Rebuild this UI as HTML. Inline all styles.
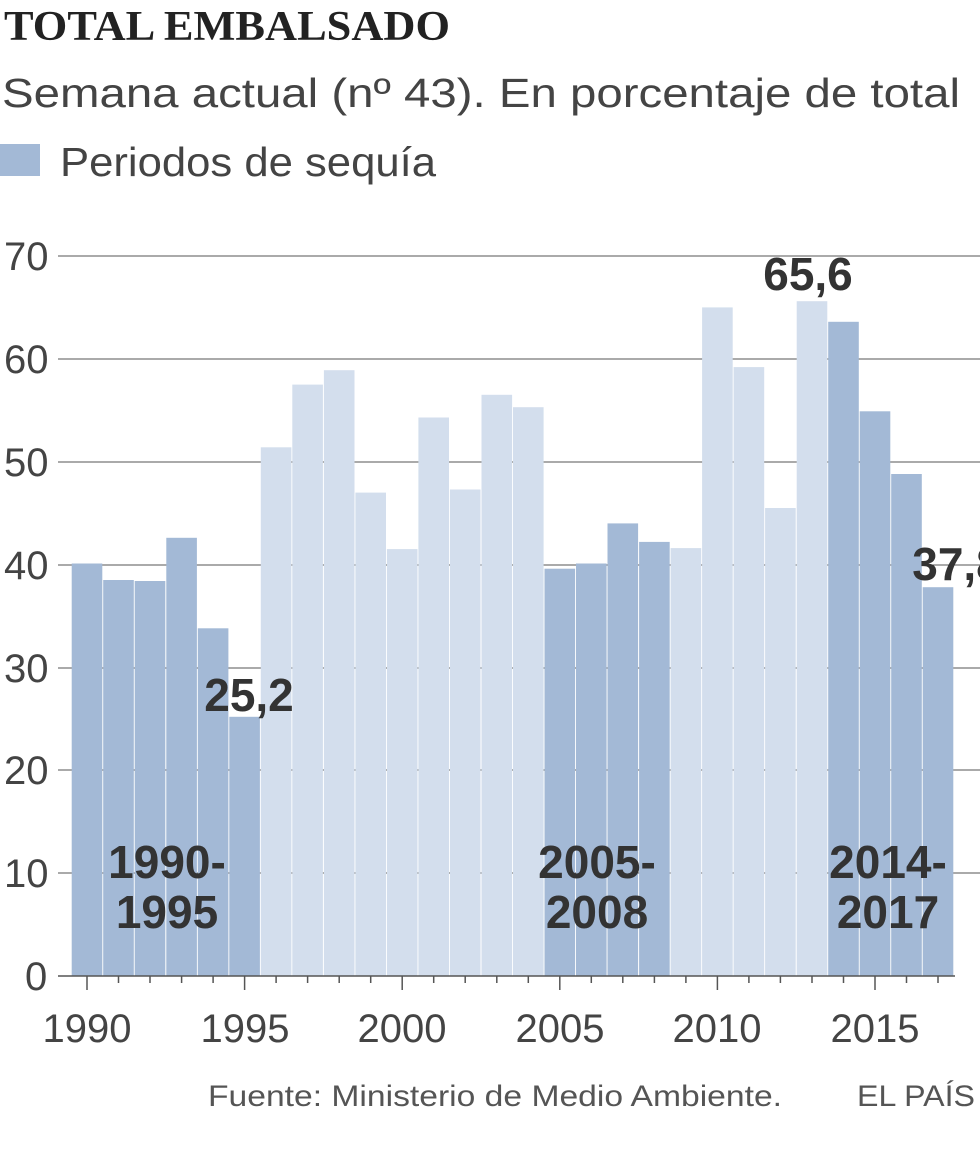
<!DOCTYPE html>
<html><head><meta charset="utf-8"><style>
body{margin:0;background:#fff;width:980px;height:1146px;overflow:hidden}
</style></head><body>
<svg width="980" height="1146" xmlns="http://www.w3.org/2000/svg" font-family="Liberation Sans, sans-serif">
<text x="4" y="40" font-family="Liberation Serif, serif" font-weight="bold" font-size="42" fill="#222" textLength="446" lengthAdjust="spacingAndGlyphs">TOTAL EMBALSADO</text>
<text x="2" y="107" font-size="41" fill="#444" textLength="958" lengthAdjust="spacingAndGlyphs">Semana actual (nº 43). En porcentaje de total</text>
<rect x="0" y="144" width="40" height="32" fill="#a3b9d6"/>
<text x="60" y="176" font-size="41" fill="#444" textLength="376" lengthAdjust="spacingAndGlyphs">Periodos de sequía</text>
<g stroke="#555" stroke-width="1">
<line x1="58" y1="256" x2="980" y2="256"/><line x1="58" y1="359" x2="980" y2="359"/>
<line x1="58" y1="462" x2="980" y2="462"/><line x1="58" y1="565" x2="980" y2="565"/>
<line x1="58" y1="668" x2="980" y2="668"/><line x1="58" y1="770" x2="980" y2="770"/>
<line x1="58" y1="873" x2="980" y2="873"/>
</g>
<g font-size="40" fill="#444">
<text x="4" y="270">70</text><text x="4" y="373">60</text><text x="4" y="476">50</text>
<text x="4" y="579">40</text><text x="4" y="682">30</text><text x="4" y="784">20</text>
<text x="4" y="887">10</text><text x="25" y="990">0</text>
</g>
<g>
<rect x="71.7" y="563.5" width="30.6" height="412.5" fill="#a3b9d6"/>
<rect x="103.2" y="580.0" width="30.6" height="396.0" fill="#a3b9d6"/>
<rect x="134.7" y="581.0" width="30.6" height="395.0" fill="#a3b9d6"/>
<rect x="166.3" y="537.8" width="30.6" height="438.2" fill="#a3b9d6"/>
<rect x="197.8" y="628.3" width="30.6" height="347.7" fill="#a3b9d6"/>
<rect x="229.3" y="716.8" width="30.6" height="259.2" fill="#a3b9d6"/>
<rect x="260.8" y="447.3" width="30.6" height="528.7" fill="#d3deed"/>
<rect x="292.3" y="384.6" width="30.6" height="591.4" fill="#d3deed"/>
<rect x="323.9" y="370.2" width="30.6" height="605.8" fill="#d3deed"/>
<rect x="355.4" y="492.6" width="30.6" height="483.4" fill="#d3deed"/>
<rect x="386.9" y="549.1" width="30.6" height="426.9" fill="#d3deed"/>
<rect x="418.4" y="417.5" width="30.6" height="558.5" fill="#d3deed"/>
<rect x="449.9" y="489.5" width="30.6" height="486.5" fill="#d3deed"/>
<rect x="481.5" y="394.8" width="30.6" height="581.2" fill="#d3deed"/>
<rect x="513.0" y="407.2" width="30.6" height="568.8" fill="#d3deed"/>
<rect x="544.5" y="568.7" width="30.6" height="407.3" fill="#a3b9d6"/>
<rect x="576.0" y="563.5" width="30.6" height="412.5" fill="#a3b9d6"/>
<rect x="607.5" y="523.4" width="30.6" height="452.6" fill="#a3b9d6"/>
<rect x="639.1" y="541.9" width="30.6" height="434.1" fill="#a3b9d6"/>
<rect x="670.6" y="548.1" width="30.6" height="427.9" fill="#d3deed"/>
<rect x="702.1" y="307.4" width="30.6" height="668.6" fill="#d3deed"/>
<rect x="733.6" y="367.1" width="30.6" height="608.9" fill="#d3deed"/>
<rect x="765.1" y="508.0" width="30.6" height="468.0" fill="#d3deed"/>
<rect x="796.7" y="301.2" width="30.6" height="674.8" fill="#d3deed"/>
<rect x="828.2" y="321.8" width="30.6" height="654.2" fill="#a3b9d6"/>
<rect x="859.7" y="411.3" width="30.6" height="564.7" fill="#a3b9d6"/>
<rect x="891.2" y="474.0" width="30.6" height="502.0" fill="#a3b9d6"/>
<rect x="922.7" y="587.2" width="30.6" height="388.8" fill="#a3b9d6"/>
</g>
<line x1="58" y1="976" x2="955" y2="976" stroke="#555" stroke-width="1.5"/>
<g stroke="#555" stroke-width="1.5">
<line x1="87" y1="976" x2="87" y2="990"/><line x1="118.5" y1="976" x2="118.5" y2="983"/><line x1="150" y1="976" x2="150" y2="983"/><line x1="181.6" y1="976" x2="181.6" y2="983"/><line x1="213.1" y1="976" x2="213.1" y2="983"/>
<line x1="244.6" y1="976" x2="244.6" y2="990"/><line x1="276.1" y1="976" x2="276.1" y2="983"/><line x1="307.6" y1="976" x2="307.6" y2="983"/><line x1="339.2" y1="976" x2="339.2" y2="983"/><line x1="370.7" y1="976" x2="370.7" y2="983"/>
<line x1="402.2" y1="976" x2="402.2" y2="990"/><line x1="433.7" y1="976" x2="433.7" y2="983"/><line x1="465.2" y1="976" x2="465.2" y2="983"/><line x1="496.8" y1="976" x2="496.8" y2="983"/><line x1="528.3" y1="976" x2="528.3" y2="983"/>
<line x1="559.8" y1="976" x2="559.8" y2="990"/><line x1="591.3" y1="976" x2="591.3" y2="983"/><line x1="622.8" y1="976" x2="622.8" y2="983"/><line x1="654.4" y1="976" x2="654.4" y2="983"/><line x1="685.9" y1="976" x2="685.9" y2="983"/>
<line x1="717.4" y1="976" x2="717.4" y2="990"/><line x1="748.9" y1="976" x2="748.9" y2="983"/><line x1="780.4" y1="976" x2="780.4" y2="983"/><line x1="812" y1="976" x2="812" y2="983"/><line x1="843.5" y1="976" x2="843.5" y2="983"/>
<line x1="875" y1="976" x2="875" y2="990"/><line x1="906.5" y1="976" x2="906.5" y2="983"/><line x1="938" y1="976" x2="938" y2="983"/>
</g>
<g font-size="40" fill="#444" text-anchor="middle">
<text x="87" y="1042">1990</text><text x="245" y="1042">1995</text><text x="402" y="1042">2000</text>
<text x="560" y="1042">2005</text><text x="717" y="1042">2010</text><text x="875" y="1042">2015</text>
</g>
<g font-size="46" font-weight="bold" fill="#333" text-anchor="middle">
<text x="249" y="711">25,2</text><text x="808" y="290">65,6</text><text x="957" y="580">37,8</text>
<text x="167" y="878">1990-</text><text x="167" y="928">1995</text>
<text x="597" y="878">2005-</text><text x="597" y="928">2008</text>
<text x="888" y="878">2014-</text><text x="888" y="928">2017</text>
</g>
<text x="208" y="1106" font-size="30" fill="#555" textLength="574" lengthAdjust="spacingAndGlyphs">Fuente: Ministerio de Medio Ambiente.</text>
<text x="857" y="1106" font-size="30" fill="#555" textLength="118" lengthAdjust="spacingAndGlyphs">EL PAÍS</text>
</svg>
</body></html>
